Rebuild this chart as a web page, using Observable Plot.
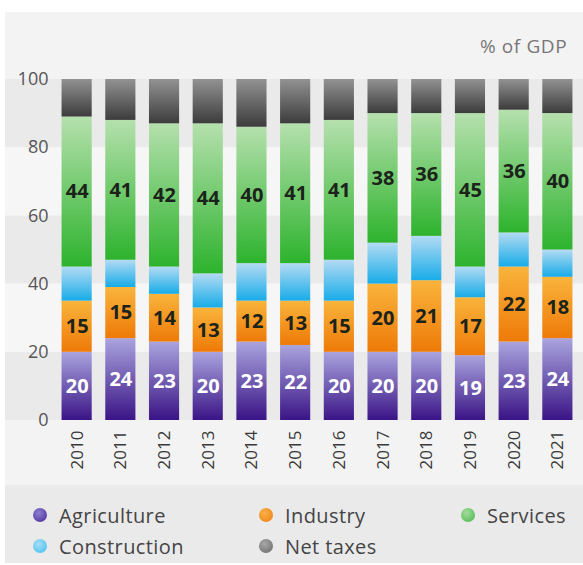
<!DOCTYPE html>
<html><head><meta charset="utf-8">
<script src="https://cdn.jsdelivr.net/npm/d3@7"></script>
<script src="https://cdn.jsdelivr.net/npm/@observablehq/plot@0.6"></script>
<style>
body{margin:0;background:#fff;width:583px;height:565px;position:relative;overflow:hidden;font-family:"Open Sans",Lato,sans-serif}
#panel{position:absolute;left:5px;top:12px;width:578px;height:473px;background:#f4f3f4}
#chart{position:absolute;left:0;top:0}
#unit{position:absolute;left:480px;top:33px;font-size:19px;letter-spacing:0.6px;color:#777;line-height:26px}
#legend{position:absolute;left:5px;top:485px;width:578px;height:78px;background:#ebeaeb}
.item{position:absolute;height:28px;font-size:20px;letter-spacing:0.4px;color:#444;display:flex;align-items:center;white-space:nowrap}
.dot{width:14px;height:14px;border-radius:50%;margin-right:12px;flex:none}
</style>
</head><body>
<div id="panel"></div>
<div id="chart"></div>
<div id="unit">% of GDP</div>
<div id="legend"></div>
<script>
const years = ["2010","2011","2012","2013","2014","2015","2016","2017","2018","2019","2020","2021"];
const series = ["Agriculture","Industry","Construction","Services","Net taxes"];
const agriculture  = [20,24,23,20,23,22,20,20,20,19,23,24];
const industry     = [15,15,14,13,12,13,15,20,21,17,22,18];
const construction = [10, 8, 8,10,11,11,12,12,13, 9,10, 8];
const services     = [44,41,42,44,40,41,41,38,36,45,36,40];
const netTaxes     = [11,12,13,13,14,13,12,10,10,10, 9,10];
const yTicks = [0,20,40,60,80,100];
const labeledDark = ["Industry","Services"];
const labeledLight = ["Agriculture"];

const valuesBySeries = [agriculture, industry, construction, services, netTaxes];
const gradientStops = {
  "Agriculture": ["#aaa4de", "#3a1486"],
  "Industry": ["#f9b43c", "#ee7a08"],
  "Construction": ["#b3dbf3", "#18ace8"],
  "Services": ["#b5e0ad", "#2db32d"],
  "Net taxes": ["#929292", "#3c3c3c"]
};
const legendColors = {
  "Agriculture": ["#8a7fd0", "#4a2a96"],
  "Industry": ["#f9b04a", "#ee7d10"],
  "Construction": ["#a6def6", "#3cbcee"],
  "Services": ["#a6dca0", "#45b545"],
  "Net taxes": ["#a8a8a8", "#666"]
};
const gid = s => "g-" + series.indexOf(s);

const data = [];
series.forEach((s, si) => years.forEach((y, yi) => data.push({year: y, series: s, value: valuesBySeries[si][yi]})));

const bands = yTicks.slice(0, -1).map((d, i) => ({y1: d, y2: yTicks[i + 1], dark: i % 2 === 0}));
const darkBands = bands.filter(b => b.dark);
const lightBands = bands.filter(b => !b.dark);

const chart = Plot.plot({
  width: 583, height: 485,
  marginLeft: 55, marginRight: 4, marginTop: 79, marginBottom: 65,
  style: {background: "transparent", fontFamily: "'Open Sans', Lato, sans-serif", overflow: "visible"},
  x: {domain: years, paddingInner: 0.31, paddingOuter: 0.15, round: false, label: null},
  y: {domain: [0, 100], label: null},
  color: {type: "identity"},
  marks: [
    Plot.rect(darkBands, {y1: "y1", y2: "y2", fill: "#ebeaeb", insetLeft: -50, insetRight: -4}),
    Plot.rect(lightBands, {y1: "y1", y2: "y2", fill: "#f7f6f7", insetLeft: -50, insetRight: -4}),
    Plot.barY(data, Plot.stackY({x: "year", y: "value", z: "series", fill: d => `url(#${gid(d.series)})`})),
    Plot.text(data, Plot.stackY({x: "year", y: "value", z: "series",
      text: d => labeledLight.includes(d.series) ? String(d.value) : null,
      fill: "white", fontSize: 20, fontWeight: "bold"})),
    Plot.text(data, Plot.stackY({x: "year", y: "value", z: "series",
      text: d => labeledDark.includes(d.series) ? String(d.value) : null,
      fill: "#1b231b", fontSize: 20, fontWeight: "bold"})),
    Plot.axisY({ticks: yTicks, tickSize: 0, tickPadding: 7, fontSize: 18, color: "#555", label: null}),
    Plot.axisX({tickSize: 0, tickRotate: -90, tickPadding: 10, fontSize: 17, color: "#3a3a3a", label: null})
  ]
});

const defs = d3.select(chart).insert("defs", ":first-child");
series.forEach(s => {
  const g = defs.append("linearGradient").attr("id", gid(s))
    .attr("x1", 0).attr("y1", 0).attr("x2", 0).attr("y2", 1);
  g.append("stop").attr("offset", "0%").attr("stop-color", gradientStops[s][0]);
  g.append("stop").attr("offset", "100%").attr("stop-color", gradientStops[s][1]);
});
document.getElementById("chart").appendChild(chart);

// legend
const legendOrder = ["Agriculture","Industry","Services","Construction","Net taxes"];
const colLeft = [28, 254, 456];
const rowTop = [16, 47];
const legend = document.getElementById("legend");
legendOrder.forEach((s, i) => {
  const item = document.createElement("div");
  item.className = "item";
  item.style.left = colLeft[i % 3] + "px";
  item.style.top = rowTop[Math.floor(i / 3)] + "px";
  const dot = document.createElement("span");
  dot.className = "dot";
  dot.style.background = `radial-gradient(circle at 40% 35%, ${legendColors[s][0]}, ${legendColors[s][1]})`;
  const label = document.createElement("span");
  label.textContent = s;
  item.appendChild(dot); item.appendChild(label);
  legend.appendChild(item);
});
</script>
</body></html>
